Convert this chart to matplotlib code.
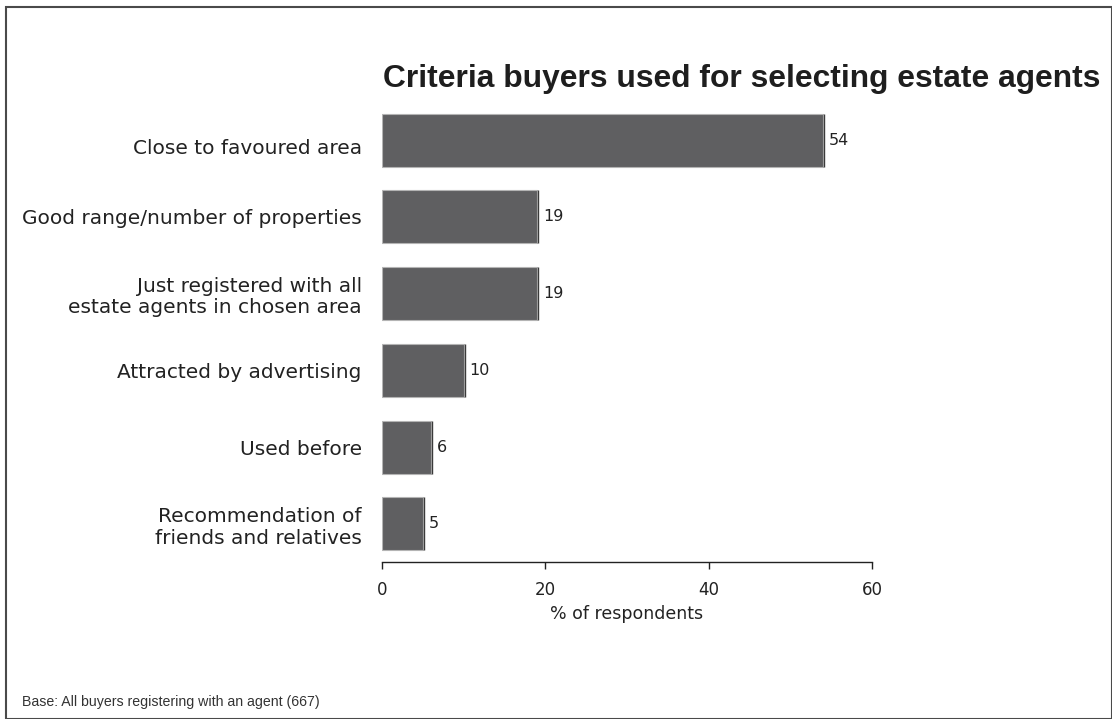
import matplotlib.pyplot as plt
from matplotlib.patches import Rectangle
from matplotlib.transforms import ScaledTranslation
from matplotlib import font_manager

categories = [
    "Close to favoured area",
    "Good range/number of properties",
    "Just registered with all\nestate agents in chosen area",
    "Attracted by advertising",
    "Used before",
    "Recommendation of\nfriends and relatives",
]
values = [54, 19, 19, 10, 6, 5]
xticks = [0, 20, 40, 60]

plt.rcParams['font.family'] = ['DejaVu Sans']

names = {f.name for f in font_manager.fontManager.ttflist}
title_family = 'Liberation Sans Narrow' if 'Liberation Sans Narrow' in names else 'Liberation Sans'

fig = plt.figure(figsize=(11.12, 7.19), dpi=100)
ax = fig.add_axes([0.3435, 0.2184, 0.4407, 0.6509])

ypos = list(range(len(categories)))
bar_h = 0.69
ax.barh(ypos, values, height=bar_h, color='#5f5f61', edgecolor='#b4b4b4', linewidth=0.8)

# dark shadow line at the end of each bar
for y, v in zip(ypos, values):
    ax.plot([v + 0.15, v + 0.15], [y - bar_h / 2, y + bar_h / 2], color='#3a3a3a', lw=1.0,
            solid_capstyle='butt')
    ax.text(v + 0.7, y, str(v), va='center', ha='left', fontsize=11.5, color='#222222')

ax.set_xlim(0, 60)
ax.set_ylim(5.495, -0.6)
ax.set_xticks(xticks)
ax.set_xticklabels([str(t) for t in xticks], fontsize=12, color='#222222')
ax.set_yticks(ypos)
ax.set_yticklabels(categories, fontsize=14.5, color='#222222', linespacing=1.17)
ax.tick_params(axis='y', length=0, pad=14.5)
ax.tick_params(axis='x', length=5, width=1, color='#222222', pad=9)
for s in ['top', 'right', 'left']:
    ax.spines[s].set_visible(False)
ax.spines['bottom'].set_color('#222222')
ax.spines['bottom'].set_linewidth(1)
ax.set_xlabel('% of respondents', fontsize=12.5, color='#222222', labelpad=4)

# the first category label sits slightly below its bar centre
first = ax.get_yticklabels()[0]
first.set_transform(first.get_transform() + ScaledTranslation(0, -6 / 100, fig.dpi_scale_trans))

fig.text(383 / 1112, 1 - 79 / 719, 'Criteria buyers used for selecting estate agents',
         fontsize=22.9, fontweight='bold', family=title_family, color='#1e1e1e',
         va='center', ha='left')
fig.text(22 / 1112, 1 - 702 / 719, 'Base: All buyers registering with an agent (667)',
         fontsize=10.2, family='Liberation Sans', color='#333333', va='center', ha='left')

# outer frame
fig.patches.append(Rectangle((6 / 1112, 0), 1 - 6 / 1112, 1 - 7 / 719,
                             transform=fig.transFigure, fill=False,
                             edgecolor='#4a4a4a', linewidth=1.5))

fig.savefig('out.png', dpi=100)
